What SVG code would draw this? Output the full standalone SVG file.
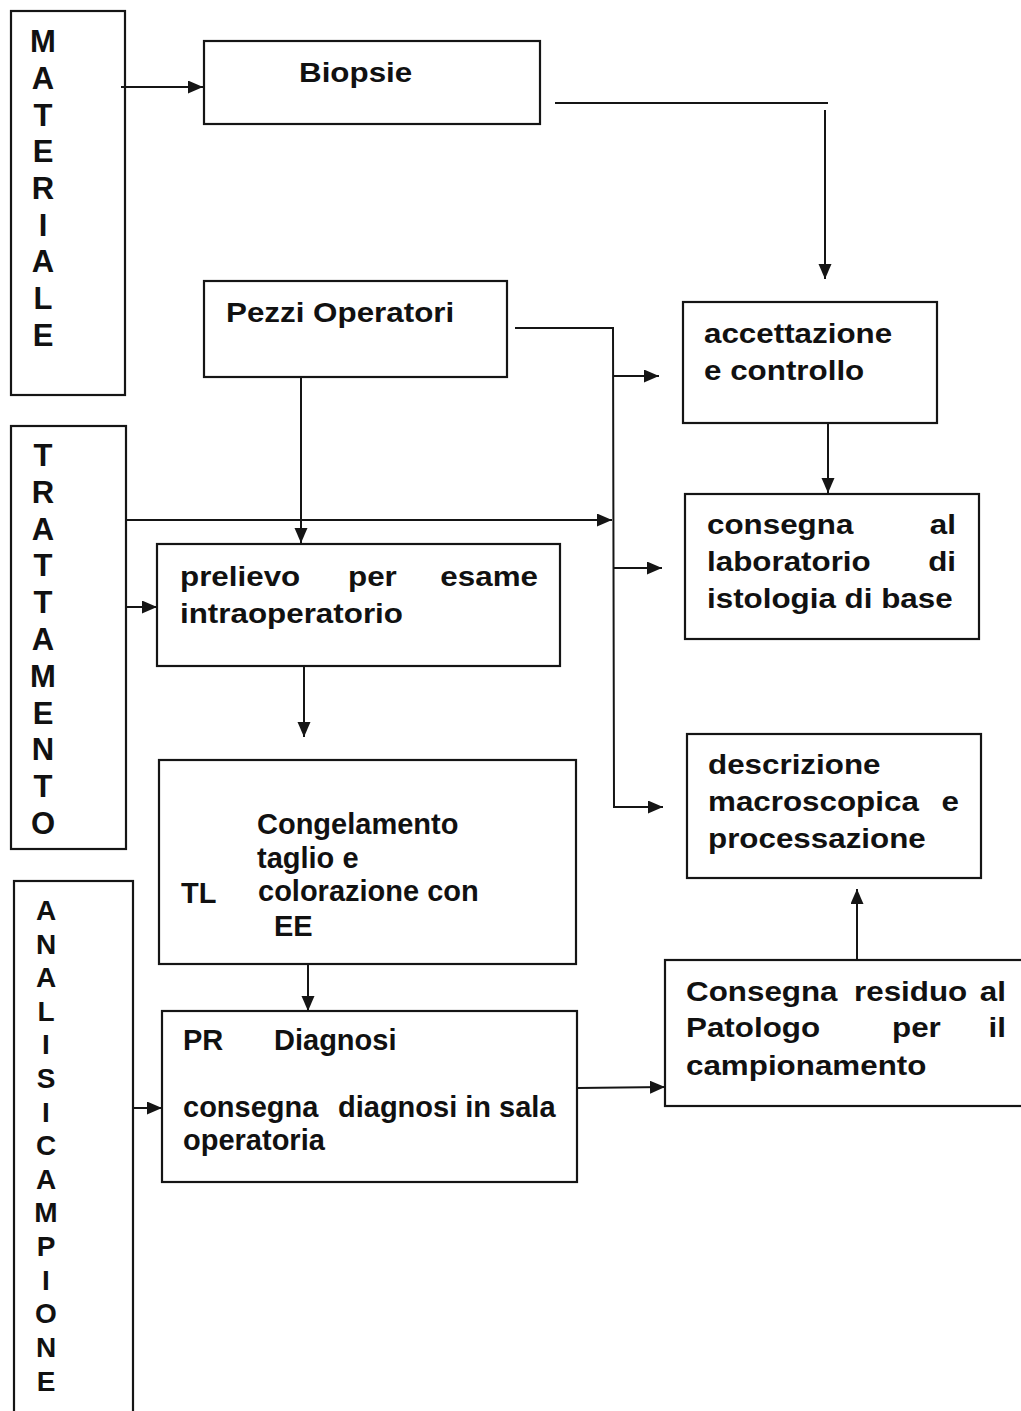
<svg xmlns="http://www.w3.org/2000/svg" width="1021" height="1411" viewBox="0 0 1021 1411">
<style>
  .box{fill:none;stroke:#151515;stroke-width:2.2}
  .ln{fill:none;stroke:#151515;stroke-width:2}
  .t{font-family:"Liberation Sans",Arial,sans-serif;font-weight:bold;font-size:28px;fill:#111}
  .u{font-family:"Liberation Sans",Arial,sans-serif;font-weight:bold;font-size:29px;fill:#111}
  .v{font-family:"Liberation Sans",Arial,sans-serif;font-weight:bold;font-size:31px;fill:#111;text-anchor:middle}
  .w{font-family:"Liberation Sans",Arial,sans-serif;font-weight:bold;font-size:28px;fill:#111;text-anchor:middle}
  .e{text-anchor:end}
</style>
<defs>
  <marker id="ah" markerUnits="userSpaceOnUse" markerWidth="16" markerHeight="14" refX="15" refY="6.5" orient="auto">
    <path d="M0,0 L15,6.5 L0,13 z" fill="#151515"/>
  </marker>
</defs>
<rect width="1021" height="1411" fill="#fff"/>

<g id="materiale">
  <rect class="box" x="11" y="11" width="114" height="384"/>
  <text class="v" x="43" y="52">M</text>
  <text class="v" x="43" y="89">A</text>
  <text class="v" x="43" y="126">T</text>
  <text class="v" x="43" y="162">E</text>
  <text class="v" x="43" y="199">R</text>
  <text class="v" x="43" y="236">I</text>
  <text class="v" x="43" y="272">A</text>
  <text class="v" x="43" y="309">L</text>
  <text class="v" x="43" y="346">E</text>
</g>

<g id="trattamento">
  <rect class="box" x="11" y="426" width="115" height="423"/>
  <text class="v" x="43" y="466">T</text>
  <text class="v" x="43" y="503">R</text>
  <text class="v" x="43" y="540">A</text>
  <text class="v" x="43" y="576">T</text>
  <text class="v" x="43" y="613">T</text>
  <text class="v" x="43" y="650">A</text>
  <text class="v" x="43" y="687">M</text>
  <text class="v" x="43" y="724">E</text>
  <text class="v" x="43" y="760">N</text>
  <text class="v" x="43" y="797">T</text>
  <text class="v" x="43" y="834">O</text>
</g>

<g id="analisi-campione">
  <rect class="box" x="14" y="881" width="119" height="560"/>
  <text class="w" x="46" y="920">A</text>
  <text class="w" x="46" y="954">N</text>
  <text class="w" x="46" y="987">A</text>
  <text class="w" x="46" y="1021">L</text>
  <text class="w" x="46" y="1054">I</text>
  <text class="w" x="46" y="1088">S</text>
  <text class="w" x="46" y="1122">I</text>
  <text class="w" x="46" y="1155">C</text>
  <text class="w" x="46" y="1189">A</text>
  <text class="w" x="46" y="1222">M</text>
  <text class="w" x="46" y="1256">P</text>
  <text class="w" x="46" y="1290">I</text>
  <text class="w" x="46" y="1323">O</text>
  <text class="w" x="46" y="1357">N</text>
  <text class="w" x="46" y="1391">E</text>
</g>

<g id="biopsie">
  <rect class="box" x="204" y="41" width="336" height="83"/>
  <text class="t" transform="translate(299,82) scale(1.12,1)">Biopsie</text>
</g>

<g id="pezzi-operatori">
  <rect class="box" x="204" y="281" width="303" height="96"/>
  <text class="t" transform="translate(226,322) scale(1.12,1)">Pezzi Operatori</text>
</g>

<g id="accettazione">
  <rect class="box" x="683" y="302" width="254" height="121"/>
  <text class="t" transform="translate(704,343) scale(1.12,1)">accettazione</text>
  <text class="t" transform="translate(704,380) scale(1.12,1)">e controllo</text>
</g>

<g id="consegna-laboratorio">
  <rect class="box" x="685" y="494" width="294" height="145"/>
  <text class="t" transform="translate(707,534) scale(1.12,1)">consegna</text>
  <text class="t e" transform="translate(956,534) scale(1.12,1)">al</text>
  <text class="t" transform="translate(707,571) scale(1.12,1)">laboratorio</text>
  <text class="t e" transform="translate(956,571) scale(1.12,1)">di</text>
  <text class="t" transform="translate(707,608) scale(1.12,1)">istologia di base</text>
</g>

<g id="prelievo">
  <rect class="box" x="157" y="544" width="403" height="122"/>
  <text class="t" transform="translate(180,586) scale(1.12,1)">prelievo</text>
  <text class="t" transform="translate(348,586) scale(1.12,1)">per</text>
  <text class="t e" transform="translate(538,586) scale(1.12,1)">esame</text>
  <text class="t" transform="translate(180,623) scale(1.12,1)">intraoperatorio</text>
</g>

<g id="descrizione">
  <rect class="box" x="687" y="734" width="294" height="144"/>
  <text class="t" transform="translate(708,774) scale(1.12,1)">descrizione</text>
  <text class="t" transform="translate(708,811) scale(1.12,1)">macroscopica</text>
  <text class="t e" transform="translate(959,811) scale(1.12,1)">e</text>
  <text class="t" transform="translate(708,848) scale(1.12,1)">processazione</text>
</g>

<g id="congelamento">
  <rect class="box" x="159" y="760" width="417" height="204"/>
  <text class="u" x="257" y="834">Congelamento</text>
  <text class="u" x="257" y="868">taglio e</text>
  <text class="u" x="181" y="903">TL</text>
  <text class="u" x="258" y="901">colorazione con</text>
  <text class="u" x="274" y="936">EE</text>
</g>

<g id="diagnosi">
  <rect class="box" x="162" y="1011" width="415" height="171"/>
  <text class="u" x="183" y="1050">PR</text>
  <text class="u" x="274" y="1050">Diagnosi</text>
  <text class="u" x="183" y="1117">consegna</text>
  <text class="u" x="338" y="1117">diagnosi in sala</text>
  <text class="u" x="183" y="1150">operatoria</text>
</g>

<g id="consegna-residuo">
  <rect class="box" x="665" y="960" width="380" height="146"/>
  <text class="t" transform="translate(686,1001) scale(1.12,1)">Consegna</text>
  <text class="t" transform="translate(854,1001) scale(1.12,1)">residuo</text>
  <text class="t e" transform="translate(1006,1001) scale(1.12,1)">al</text>
  <text class="t" transform="translate(686,1037) scale(1.12,1)">Patologo</text>
  <text class="t" transform="translate(892,1037) scale(1.12,1)">per</text>
  <text class="t e" transform="translate(1006,1037) scale(1.12,1)">il</text>
  <text class="t" transform="translate(686,1075) scale(1.12,1)">campionamento</text>
</g>

<g id="connectors">
  <line class="ln" x1="121" y1="87" x2="203" y2="87" marker-end="url(#ah)"/>
  <line class="ln" x1="555" y1="103" x2="828" y2="103"/>
  <line class="ln" x1="825" y1="110" x2="825" y2="279" marker-end="url(#ah)"/>
  <polyline class="ln" points="515,328 613,328 614,807 663,807" marker-end="url(#ah)"/>
  <line class="ln" x1="613" y1="376" x2="659" y2="376" marker-end="url(#ah)"/>
  <line class="ln" x1="614" y1="568" x2="662" y2="568" marker-end="url(#ah)"/>
  <line class="ln" x1="126" y1="520" x2="612" y2="520" marker-end="url(#ah)"/>
  <line class="ln" x1="301" y1="377" x2="301" y2="543" marker-end="url(#ah)"/>
  <line class="ln" x1="127" y1="607" x2="157" y2="607" marker-end="url(#ah)"/>
  <line class="ln" x1="304" y1="666" x2="304" y2="737" marker-end="url(#ah)"/>
  <line class="ln" x1="828" y1="423" x2="828" y2="493" marker-end="url(#ah)"/>
  <line class="ln" x1="308" y1="964" x2="308" y2="1011" marker-end="url(#ah)"/>
  <line class="ln" x1="133" y1="1108" x2="162" y2="1108" marker-end="url(#ah)"/>
  <line class="ln" x1="578" y1="1088" x2="665" y2="1087" marker-end="url(#ah)"/>
  <line class="ln" x1="857" y1="960" x2="857" y2="889" marker-end="url(#ah)"/>
</g>
</svg>
